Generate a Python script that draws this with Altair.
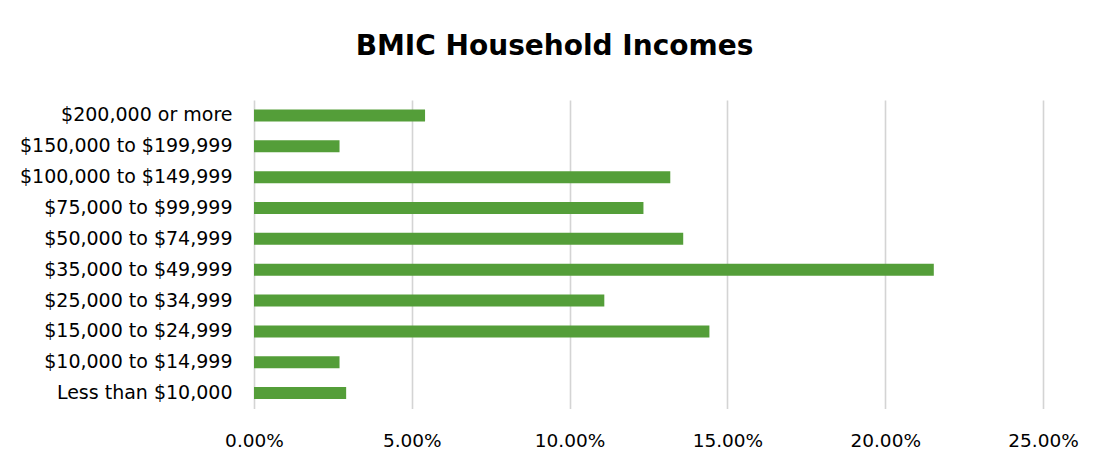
import altair as alt
import pandas as pd

categories = [
    "$200,000 or more",
    "$150,000 to $199,999",
    "$100,000 to $149,999",
    "$75,000 to $99,999",
    "$50,000 to $74,999",
    "$35,000 to $49,999",
    "$25,000 to $34,999",
    "$15,000 to $24,999",
    "$10,000 to $14,999",
    "Less than $10,000",
]
shares = [0.0542, 0.0271, 0.1319, 0.1234, 0.1360, 0.2154, 0.1110, 0.1443, 0.0271, 0.0292]
x_ticks = [0.0, 0.05, 0.10, 0.15, 0.20, 0.25]

df = pd.DataFrame({"category": categories, "share": shares})

FONT = "DejaVu Sans"

chart = (
    alt.Chart(df, title=alt.Title(
        "BMIC Household Incomes",
        font=FONT, fontSize=28, fontWeight="bold", color="#000000",
        anchor="middle", baseline="alphabetic", offset=17, dx=-94,
    ))
    .mark_bar(color="#549e39", size=12)
    .encode(
        x=alt.X(
            "share:Q",
            scale=alt.Scale(domain=[0, 0.25], nice=False),
            axis=alt.Axis(
                values=x_ticks, format=".2%", title=None,
                domain=False, ticks=False, grid=True,
                gridColor="#d4d4d4", gridWidth=1.6,
                labelFont=FONT, labelFontSize=18.5, labelColor="#000000",
                labelPadding=23, labelFlush=False,
            ),
        ),
        y=alt.Y(
            "category:N",
            sort=categories,
            scale=alt.Scale(paddingInner=0, paddingOuter=0),
            axis=alt.Axis(
                title=None, domain=False, ticks=False, grid=False,
                labelFont=FONT, labelFontSize=19, labelColor="#000000",
                labelPadding=22, labelLimit=400,
            ),
        ),
    )
    .properties(
        width=789,
        height=308.5,
        background="#ffffff",
        autosize=alt.AutoSizeParams(type="none"),
        padding={"left": 246, "top": 92, "right": 59, "bottom": 53},
    )
    .configure_view(strokeWidth=0, stroke="transparent")
)

chart.save("out.html", embed_options={"renderer": "svg", "actions": False})
